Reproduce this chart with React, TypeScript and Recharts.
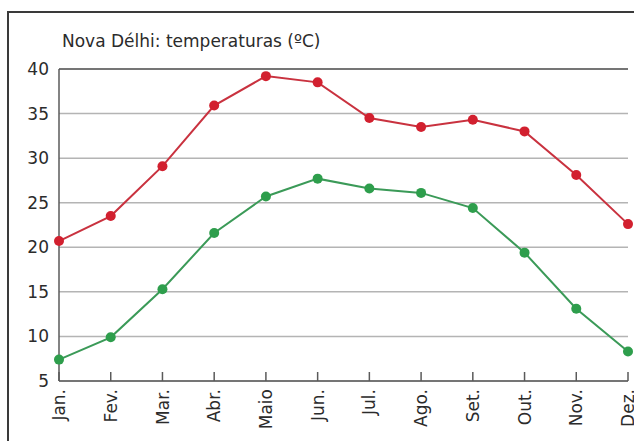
import { LineChart, Line, XAxis, YAxis, CartesianGrid, ReferenceLine } from 'recharts';

const months = ['Jan.', 'Fev.', 'Mar.', 'Abr.', 'Maio', 'Jun.', 'Jul.', 'Ago.', 'Set.', 'Out.', 'Nov.', 'Dez.'];
const maxTemps = [20.7, 23.5, 29.1, 35.9, 39.2, 38.5, 34.5, 33.5, 34.3, 33.0, 28.1, 22.6];
const minTemps = [7.4, 9.9, 15.3, 21.6, 25.7, 27.7, 26.6, 26.1, 24.4, 19.4, 13.1, 8.3];
const yTicks = [5, 10, 15, 20, 25, 30, 35, 40];

const data = months.map((m, i) => ({ month: m, max: maxTemps[i], min: minTemps[i] }));

const FONT = '"DejaVu Sans", sans-serif';
const TEXT = '#2b2b2b';
const FRAME = '#5a5a5a';

// eslint-disable-next-line @typescript-eslint/no-explicit-any
function MonthTick(props: any) {
  const { x, y, payload } = props;
  const axisY = y - 8;
  return (
    <g>
      <line x1={x} x2={x} y1={axisY} y2={axisY - 9} stroke={FRAME} strokeWidth={1.5} />
      <text
        transform={`translate(${x},${y}) rotate(-90)`}
        textAnchor="end"
        dy="0.36em"
        fontSize={17}
        fontFamily={FONT}
        fill={TEXT}
      >
        {payload.value}
      </text>
    </g>
  );
}

export default function App() {
  return (
    <div style={{ position: 'absolute', left: 0, top: 0, width: 634, height: 441, overflow: 'hidden', background: '#fff' }}>
      <div
        style={{
          position: 'absolute',
          left: 7,
          top: 11,
          width: 660,
          height: 470,
          border: '2px solid #3a3a3a',
          boxSizing: 'border-box',
        }}
      />
      <div
        style={{
          position: 'absolute',
          left: 62,
          top: 33,
          fontFamily: FONT,
          fontSize: 17,
          lineHeight: '17px',
          color: TEXT,
          whiteSpace: 'nowrap',
        }}
      >
        Nova Délhi: temperaturas (ºC)
      </div>
      <div style={{ position: 'absolute', left: 0, top: 0 }}>
        <LineChart width={634} height={441} data={data} margin={{ top: 69, right: 6, bottom: 0, left: 0 }}>
          <CartesianGrid horizontal vertical={false} stroke="#b4b4b4" strokeWidth={1.5} />
          <XAxis
            dataKey="month"
            height={60}
            interval={0}
            tickSize={0}
            tickMargin={8}
            tickLine={false}
            axisLine={{ stroke: FRAME, strokeWidth: 1.5 }}
            tick={<MonthTick />}
          />
          <YAxis
            domain={[5, 40]}
            ticks={yTicks}
            width={59}
            tickSize={0}
            tickMargin={10}
            tickLine={false}
            axisLine={{ stroke: FRAME, strokeWidth: 1.5 }}
            tick={{ fontSize: 17, fontFamily: FONT, fill: TEXT }}
          />
          <YAxis
            yAxisId="right"
            orientation="right"
            domain={[5, 40]}
            width={0}
            tick={false}
            tickLine={false}
            axisLine={{ stroke: FRAME, strokeWidth: 1.5 }}
          />
          <ReferenceLine y={40} stroke={FRAME} strokeWidth={1.5} />
          <Line
            type="linear"
            dataKey="max"
            stroke="#c9323f"
            strokeWidth={2}
            dot={{ r: 5, fill: '#d2202f', stroke: '#d2202f', strokeWidth: 0 }}
            isAnimationActive={false}
          />
          <Line
            type="linear"
            dataKey="min"
            stroke="#3b9a58"
            strokeWidth={2}
            dot={{ r: 5, fill: '#2e9e4c', stroke: '#2e9e4c', strokeWidth: 0 }}
            isAnimationActive={false}
          />
        </LineChart>
      </div>
    </div>
  );
}
